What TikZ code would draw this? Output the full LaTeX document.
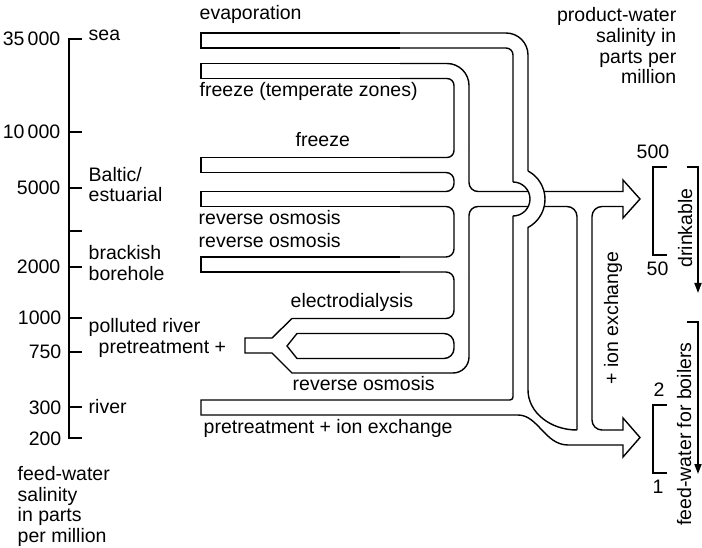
\documentclass[tikz,border=0pt]{standalone}
\usepackage{fontspec}
\setmainfont{Liberation Sans}
\usetikzlibrary{arrows.meta}
\begin{document}
\begin{tikzpicture}[x=1pt,y=-1pt,line width=1.4pt,
  txt/.style={font=\fontsize{19.5}{21}\selectfont,inner sep=0pt},
  lw/.style={txt,anchor=base west},
  le/.style={txt,anchor=base east},
  lb/.style={txt,anchor=base},
  vert/.style={txt,anchor=base,rotate=90},
  thinarrow/.style={line width=1.8pt,-{Triangle[length=10pt,width=7pt]}}]
\useasboundingbox (0,0) rectangle (702,548);

% ---------- feed-water salinity axis ----------
\draw (82,39) -- (69,39) -- (69,438) -- (82,438);
\foreach \t in {132,188,231,267,318,352,407} \draw (69,\t) -- (82,\t);
\node[le] (n35000) at (61,45.5) {35\,000};
\node[le] (n10000) at (61,138.5) {10\,000};
\node[le] (n5000) at (61,195) {5000};
\node[le] (n2000) at (61,274) {2000};
\node[le] (n1000) at (62,325) {1000};
\node[le] (n750) at (62,359) {750};
\node[le] (n300) at (62,414) {300};
\node[le] (n200) at (62,445) {200};

\node[lw] (sea) at (88,41) {sea};
\node[lw] (baltic) at (88,182) {Baltic/};
\node[lw] (estuarial) at (88,202) {estuarial};
\node[lw] (brackish) at (88,260) {brackish};
\node[lw] (borehole) at (88,281) {borehole};
\node[lw] (polluted) at (88,333) {polluted river};
\node[lw] (pretreat) at (98,353) {pretreatment +};
\node[lw] (river) at (88,413) {river};

\node[lw] (fw1) at (17,480) {feed-water};
\node[lw] (fw2) at (17,501) {salinity};
\node[lw] (fw3) at (17,521.5) {in parts};
\node[lw] (fw4) at (17,542) {per million};

% ---------- product-water heading ----------
\node[le] (pw1) at (677,22) {product-water};
\node[le] (pw2) at (677,43) {salinity in};
\node[le] (pw3) at (677,63.5) {parts per};
\node[le] (pw4) at (677,84) {million};

% ---------- process labels ----------
\node[lw] (evap) at (199,20) {evaporation};
\node[lw] (freezet) at (199,97) {freeze (temperate zones)};
\node[lw] (freeze) at (295,147) {freeze};
\node[lw] (ro1) at (198,225) {reverse osmosis};
\node[lw] (ro2) at (198,248) {reverse osmosis};
\node[lw] (ed) at (290,308) {electrodialysis};
\node[lw] (ro3) at (292,390) {reverse osmosis};
\node[lw] (pie) at (203,433) {pretreatment + ion exchange};
\node[vert] (ionex) at (618,318) {+ ion exchange};

% ---------- evaporation pipe ----------
\draw (400,33) -- (201,33) -- (201,48) -- (400,48);
\draw[rounded corners=22pt] (400,33) -- (528,33) -- (528,171);
\draw (528,171) arc[start angle=-62,end angle=62,radius=32] -- (528,390)
      arc[start angle=180,end angle=90,x radius=49,y radius=40];
\draw[rounded corners=7pt] (400,48) -- (513,48) -- (513,182);
\draw (513,182) arc[start angle=-90,end angle=90,radius=17];
\draw[rounded corners=3pt] (513,216) -- (513,400) -- (400,400);

% ---------- river pipe, boiler arrow, ion exchange, drinkable arrow ----------
\draw (400,400) -- (201,400) -- (201,415) -- (518,415)
      .. controls (538,415) and (545,445) .. (568,445)
      -- (623,445) -- (623,457) -- (640,437.5) -- (623,418) -- (623,430) -- (610,430);
\draw[rounded corners=10pt] (610,430) -- (592,430) -- (592,206.5) -- (610,206.5);
\draw (610,206.5) -- (623,206.5) -- (623,218) -- (640,199) -- (623,180) -- (623,191.5) -- (544.1,191.5);
\draw[rounded corners=10pt] (544.1,206.5) -- (577,206.5) -- (577,430);

% ---------- collector, right wall ----------
\draw (400,63.5) -- (201,63.5) -- (201,78.5) -- (400,78.5);
\draw[rounded corners=22pt] (400,63.5) -- (469,63.5) -- (469,150);
\draw[rounded corners=9pt] (469,150) -- (469,191.5) -- (528.3,191.5);
\draw[rounded corners=9pt] (528.3,206.5) -- (469,206.5) -- (469,280);
\draw[rounded corners=16pt] (469,280) -- (469,373) -- (400,373);

% ---------- collector, left wall and feed pipes ----------
\draw[rounded corners=7pt] (400,78.5) -- (454,78.5) -- (454,157.5) -- (400,157.5);
\draw (400,157.5) -- (201,157.5) -- (201,172.5) -- (400,172.5);
\draw[rounded corners=8pt] (400,172.5) -- (454,172.5) -- (454,191.5) -- (400,191.5);
\draw (400,191.5) -- (201,191.5) -- (201,206.5) -- (400,206.5);
\draw[rounded corners=8pt] (400,206.5) -- (454,206.5) -- (454,257) -- (400,257);
\draw (400,257) -- (201,257) -- (201,272) -- (400,272);
\draw[rounded corners=8pt] (400,272) -- (454,272) -- (454,318.5) -- (400,318.5);
\draw (400,318.5) -- (292,318.5) -- (272,338) -- (245,338) -- (245,353) -- (272,353) -- (292,373) -- (400,373);
\draw (400,333.5) -- (297,333.5) -- (287,346) -- (297,358.5) -- (400,358.5);
\draw[rounded corners=10pt] (400,333.5) -- (454,333.5) -- (454,358.5) -- (400,358.5);

% ---------- product-water scales ----------
\draw (667,167) -- (653,167) -- (653,255) -- (667,255);
\node[lb] (p500) at (653,159) {500};
\node[lb] (p50) at (657.5,276) {50};
\node[vert] (drink) at (692,228) {drinkable};
\coordinate (da0) at (687,167);
\coordinate (da1) at (698,293);
\draw[thinarrow] (da0) -| (da1);

\draw (667,405) -- (653,405) -- (653,473) -- (667,473);
\node[lb] (p2) at (659,396) {2};
\node[lb] (p1) at (658,493) {1};
\node[vert] (boil) at (691,434) {feed-water for boilers};
\coordinate (ba0) at (687,322);
\coordinate (ba1) at (698,474);
\draw[thinarrow] (ba0) -| (ba1);
\end{tikzpicture}
\end{document}
